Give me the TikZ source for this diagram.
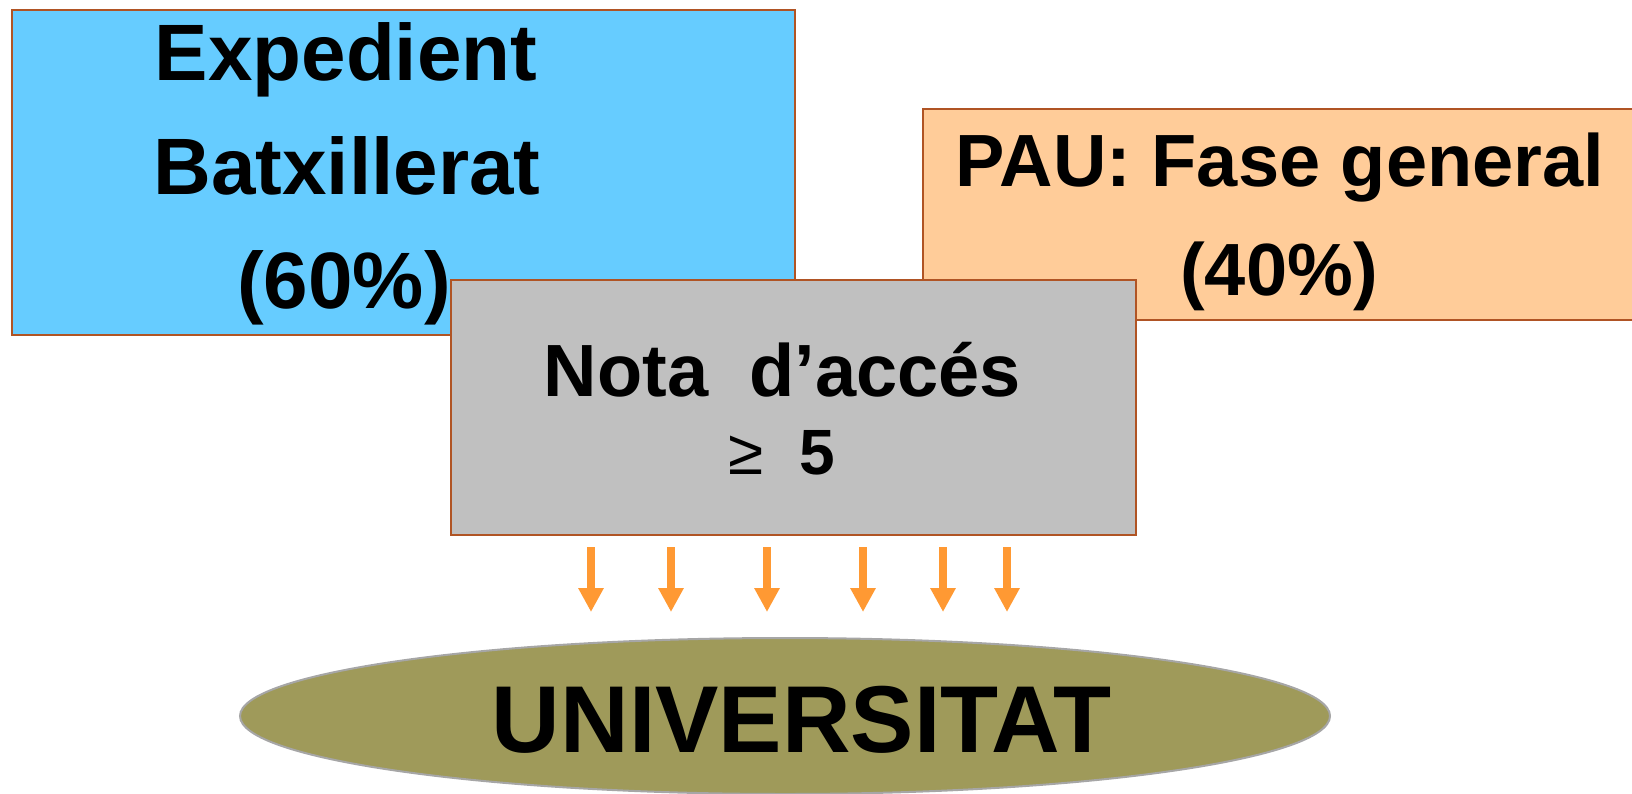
\documentclass[tikz,border=0pt]{standalone}
\usepackage{fontspec}
\setmainfont{Liberation Sans}
\usetikzlibrary{shapes.geometric,arrows.meta}
\definecolor{edgebrown}{RGB}{176,84,36}
\definecolor{skyfill}{RGB}{102,204,255}
\definecolor{peachfill}{RGB}{255,204,153}
\definecolor{greyfill}{RGB}{192,192,192}
\definecolor{olivefill}{RGB}{159,154,90}
\definecolor{olivedge}{RGB}{166,166,166}
\definecolor{arrorange}{RGB}{255,153,51}
\tikzset{
  panel/.style={draw=edgebrown, line width=1pt, inner sep=0pt, rectangle},
  lbl/.style={anchor=base, inner sep=0pt, font=\bfseries},
  downarr/.style={draw=arrorange, line width=3.75pt, -{Triangle[width=12pt,length=12pt]}},
}
\begin{document}
\begin{tikzpicture}[x=0.5pt,y=-0.5pt]
\useasboundingbox (0,0) rectangle (1632,793);
% blue box
\node[panel, fill=skyfill, minimum width=391.5pt, minimum height=162.5pt] (exp) at (403.5,172.5) {};
\node[lbl, font=\bfseries\fontsize{40}{48}\selectfont] (exp1) at (346,80) {Expedient};
\node[lbl, font=\bfseries\fontsize{40}{48}\selectfont] (exp2) at (347,194) {Batxillerat};
\node[lbl, font=\bfseries\fontsize{40}{48}\selectfont] (exp3) at (344,308) {(60\%)};
% orange box
\node[panel, fill=peachfill, minimum width=361pt, minimum height=105.5pt] (pau) at (1284,214.5) {};
\node[lbl, font=\bfseries\fontsize{37}{44}\selectfont] (pau1) at (1280,186) {PAU: Fase general};
\node[lbl, font=\bfseries\fontsize{37}{44}\selectfont] (pau2) at (1279,295) {(40\%)};
% grey box
\node[panel, fill=greyfill, minimum width=342.5pt, minimum height=127.5pt] (nota) at (793.5,407.5) {};
\node[lbl, font=\bfseries\fontsize{37}{44}\selectfont] (nota1) at (782.5,396) {Nota~~d’accés};
\node[lbl, font=\bfseries\fontsize{32}{38}\selectfont] (nota2) at (782,474) {{\mdseries ≥}~~5};
% ellipse
\node[ellipse, draw=olivedge, line width=1pt, fill=olivefill, inner sep=0pt, minimum width=545pt, minimum height=78pt] (uni) at (785,716) {};
\node[lbl, font=\bfseries\fontsize{47.5}{56}\selectfont] (unit) at (801.5,752) {UNIVERSITAT};
% arrows
\foreach \i/\x in {1/591,2/671,3/767,4/863,5/943,6/1007}{
  \coordinate (as\i) at (\x,547);
  \coordinate (ae\i) at (\x,612);
  \draw[downarr] (as\i) -- (ae\i);
}
\end{tikzpicture}
\end{document}
